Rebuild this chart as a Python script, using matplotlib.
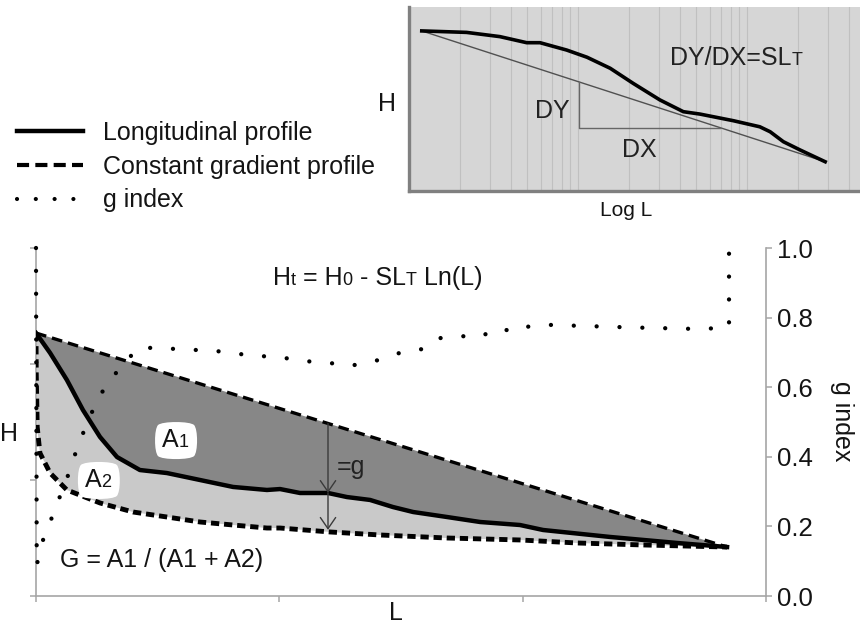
import numpy as np
import matplotlib
matplotlib.use("Agg")
import matplotlib.pyplot as plt
from matplotlib.lines import Line2D
from matplotlib.ticker import LogLocator, FixedLocator

plt.rcParams["font.family"] = ["Liberation Sans", "DejaVu Sans"]

# ---------------- data ----------------
# Longitudinal profile (main panel, L and H in arbitrary units)
prof_L = [0.0, 0.058, 0.127, 0.193, 0.263, 0.333, 0.427, 0.538, 0.674, 0.810,
          0.949, 1.003, 1.085, 1.200, 1.278, 1.373, 1.467, 1.550, 1.689, 1.825,
          1.989, 2.084, 2.359, 2.635, 2.840]
prof_H = [2.267, 2.095, 1.862, 1.603, 1.371, 1.198, 1.086, 1.060, 1.000, 0.940,
          0.914, 0.922, 0.888, 0.888, 0.853, 0.828, 0.767, 0.724, 0.681, 0.638,
          0.612, 0.569, 0.509, 0.457, 0.422]

# Constant gradient profile  Ht = H0 - SLT Ln(L)
const_L = [0.0, 0.001, 0.005, 0.016, 0.058, 0.127, 0.263, 0.399, 0.538, 0.674,
           0.810, 0.949, 1.003, 1.208, 1.414, 1.689, 1.989, 2.224, 2.495, 2.840]
const_H = [2.267, 1.922, 1.457, 1.233, 1.060, 0.914, 0.802, 0.724, 0.681, 0.638,
           0.612, 0.586, 0.586, 0.552, 0.526, 0.500, 0.483, 0.457, 0.440, 0.422]

# Straight line joining the ends of the profile
chord_L = [0.0, 2.840]
chord_H = [2.267, 0.422]

# g index along the river
g_L = [0.0, 0.003, 0.029, 0.066, 0.140, 0.173, 0.251, 0.304, 0.419, 0.522,
       0.612, 0.707, 0.806, 0.900, 0.999, 1.093, 1.188, 1.282, 1.369, 1.447,
       1.517, 1.595, 1.660, 1.739, 1.825, 1.895, 1.969, 2.030, 2.113, 2.430,
       2.741, 2.848, 2.848]
g_val = [1.0, 0.089, 0.161, 0.227, 0.362, 0.434, 0.563, 0.621, 0.713, 0.713,
         0.707, 0.707, 0.698, 0.690, 0.687, 0.675, 0.672, 0.661, 0.670, 0.687,
         0.704, 0.710, 0.741, 0.747, 0.744, 0.770, 0.759, 0.776, 0.779, 0.772,
         0.767, 0.773, 0.990]
g_ticks = [0.0, 0.2, 0.4, 0.6, 0.8, 1.0]

# position of the g measurement arrow
arrow_L = 1.2
arrow_bottom_H = 0.57

# Inset: profile against log L
in_L = [1.19, 2.19, 3.45, 4.97, 5.96, 8.57, 11.3, 15.5, 21.2, 30.5, 42.0, 52.7,
        83.0, 119, 137, 164, 206, 290]
in_H = [87.0, 86.2, 83.9, 80.6, 80.6, 76.6, 72.7, 66.7, 58.5, 49.5, 43.1, 41.8,
        38.2, 34.9, 32.2, 26.8, 22.3, 15.9]
trend_L = [1.19, 290]
trend_H = [87.0, 15.9]
dy_L = 10.2        # where the DY leg stands
dx_level = 34.5    # height of the DX leg

# ---------------- figure ----------------
W, Hpx = 860, 629
fig = plt.figure(figsize=(W / 100, Hpx / 100), dpi=100)

def fx(px):
    return px / W

def fy(py):
    return 1 - py / Hpx

AX_GRAY = "#a6a6a6"
INK = "#141414"

def chain_text(ax, x, y, pieces, **kw):
    """Write consecutive text pieces of different sizes on one baseline."""
    s0, fs0 = pieces[0]
    prev = ax.text(x, y, s0, fontsize=fs0, ha="left", va="baseline", **kw)
    prev_fs = fs0
    for s, fs in pieces[1:]:
        dy = 0.21 * (prev_fs - fs)
        prev = ax.annotate(s, xy=(1, 0), xycoords=prev, xytext=(0, dy),
                           textcoords="offset points", fontsize=fs,
                           ha="left", va="bottom", **kw)
        prev_fs = fs
    return prev

# ---------- main panel ----------
ax = fig.add_axes([fx(36), fy(596), fx(730), 348 / Hpx])
ax.set_xlim(0, 3)
ax.set_ylim(0, 3)

ax.fill(np.r_[chord_L, prof_L[::-1]], np.r_[chord_H, prof_H[::-1]],
        color="#878787", lw=0, zorder=1)
ax.fill(np.r_[prof_L, const_L[::-1]], np.r_[prof_H, const_H[::-1]],
        color="#c9c9c9", lw=0, zorder=1)

ax.plot(chord_L, chord_H, color="k", lw=2.4, ls=(0, (3.2, 1.8)), zorder=3)
ax.plot(const_L, const_H, color="k", lw=3.5, ls=(0, (1.7, 1.0)), zorder=3)
ax.plot(prof_L, prof_H, color="k", lw=3.2, solid_joinstyle="round", zorder=4)

# g arrow between the chord, the profile and the constant gradient profile
chord_at = np.interp(arrow_L, chord_L, chord_H)
prof_at = np.interp(arrow_L, prof_L, prof_H)
aprops = dict(arrowstyle="->,head_length=0.8,head_width=0.55", color="#3a3a3a",
              lw=1.0, shrinkA=0, shrinkB=0)
ax.annotate("", xy=(arrow_L, prof_at), xytext=(arrow_L, chord_at),
            arrowprops=aprops, zorder=5)
ax.annotate("", xy=(arrow_L, arrow_bottom_H), xytext=(arrow_L, prof_at),
            arrowprops=aprops, zorder=5)
ax.text(1.237, 1.052, "=g", fontsize=18, color="#222222", va="baseline", zorder=6)

# area labels on white clouds
cloud = dict(boxstyle="round4,pad=0.35", fc="white", ec="none")
for (x, y, n) in [(0.518, 1.284, "1"), (0.201, 0.940, "2")]:
    ax.text(x, y, "A" + n, fontsize=16.5, color=(0, 0, 0, 0), ha="left",
            va="baseline", bbox=cloud, zorder=6)
    chain_text(ax, x, y, [("A", 18), (n, 13)], color=INK, zorder=7)

chain_text(ax, 0.974, 2.681,
           [("H", 18), ("t", 13), (" = H", 18), ("0", 13), (" - SL", 18),
            ("T", 13), (" Ln(L)", 18)], color=INK, zorder=7)
ax.text(0.099, 0.25, "G = A1 / (A1 + A2)", fontsize=18, color=INK,
        ha="left", va="baseline", zorder=7)

for side in ("top", "right"):
    ax.spines[side].set_visible(False)
for side in ("left", "bottom"):
    ax.spines[side].set_color(AX_GRAY)
    ax.spines[side].set_linewidth(1.2)
ax.set_xticks([0, 1, 2, 3])
ax.set_yticks([0, 1, 2, 3])
ax.tick_params(labelbottom=False, labelleft=False, length=4.3, width=1.1,
               color=AX_GRAY, direction="out")

# g index on the right axis
ax2 = ax.twinx()
ax2.set_ylim(0, 1)
ax2.plot(g_L, g_val, color="k", lw=3.1, ls=(0, (0.01, 5.3)),
         dash_capstyle="round", clip_on=False, zorder=8)
for side in ("top", "left", "bottom"):
    ax2.spines[side].set_visible(False)
ax2.spines["right"].set_color(AX_GRAY)
ax2.spines["right"].set_linewidth(1.2)
ax2.yaxis.set_major_locator(FixedLocator(g_ticks))
ax2.set_yticklabels([f"{t:.1f}" for t in g_ticks])
ax2.tick_params(axis="y", length=4.3, width=1.1, color=AX_GRAY,
                labelcolor=INK, labelsize=18.5, pad=3.6)

fig.text(fx(842), fy(421), "g index", fontsize=18, rotation=270,
         ha="center", va="center", color=INK)
fig.text(fx(0), fy(434), "H", fontsize=18, ha="left", va="center", color=INK)
fig.text(fx(396), fy(613), "L", fontsize=18, ha="center", va="center", color=INK)

# legend
handles = [
    Line2D([], [], color="k", lw=3.2),
    Line2D([], [], color="k", lw=3.0, ls=(0, (2.9, 1.5))),
    Line2D([], [], color="k", lw=3.0, ls=(0, (0.01, 4.5)), dash_capstyle="round"),
]
labels = ["Longitudinal profile", "Constant gradient profile", "g index"]
fig.legend(handles, labels, loc="upper left", bbox_to_anchor=(fx(17), fy(121)),
           frameon=False, fontsize=18, handlelength=2.64, handletextpad=0.8,
           labelspacing=0.39, borderpad=0, borderaxespad=0, labelcolor=INK)

# ---------- inset: profile against log L ----------
axi = fig.add_axes([fx(409), fy(191), fx(451), 184 / Hpx])
axi.set_facecolor("#d6d6d6")
axi.set_xscale("log")
axi.set_xlim(1, 466)
axi.set_ylim(0, 100)
axi.xaxis.set_minor_locator(LogLocator(base=10, subs=np.arange(2, 10), numticks=20))
axi.xaxis.grid(True, which="both", color="#c0c0c0", lw=0.8)
axi.tick_params(which="both", length=0, labelbottom=False, labelleft=False)
for side in ("top", "right"):
    axi.spines[side].set_visible(False)
for side in ("left", "bottom"):
    axi.spines[side].set_color("#808080")
    axi.spines[side].set_linewidth(2.4)

axi.plot(trend_L, trend_H, color="#505050", lw=1.0, zorder=3)
axi.plot(in_L, in_H, color="k", lw=2.6, solid_joinstyle="round", zorder=4)

lg_trend = np.log10(trend_L)
dy_top = np.interp(np.log10(dy_L), lg_trend, trend_H)
dx_end = 10 ** np.interp(dx_level, trend_H[::-1], lg_trend[::-1])
axi.plot([dy_L, dy_L, dx_end], [dy_top, dx_level, dx_level],
         color="#666666", lw=1.0, zorder=3)

axi.text(8.96, 39.7, "DY", fontsize=18, ha="right", va="baseline", color="#222222")
axi.text(18.2, 18.5, "DX", fontsize=18, ha="left", va="baseline", color="#222222")
chain_text(axi, 35.0, 68.5, [("DY/DX=SL", 18), ("T", 13)], color="#222222")

fig.text(fx(387), fy(104), "H", fontsize=18, ha="center", va="center", color=INK)
fig.text(fx(626), fy(211), "Log L", fontsize=15, ha="center", va="center", color=INK)

fig.savefig("out.png", dpi=100)
